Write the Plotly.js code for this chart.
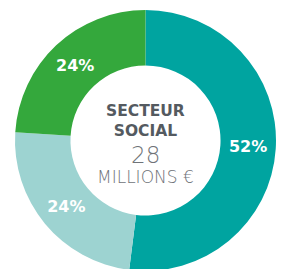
<!DOCTYPE html>
<html><head><meta charset="utf-8">
<script src="https://cdn.plot.ly/plotly-3.0.1.min.js"></script>
<style>html,body{margin:0;padding:0;overflow:hidden;background:#fff}</style>
</head><body><div id="chart" style="width:281px;height:272px"></div>
<script>
const labels = ["A", "B", "C"];
const values = [52, 24, 24];
const colors = ["#00a4a0", "#9dd3d1", "#34a83c"];
const centerTitle = "SECTEUR<br>SOCIAL";
const centerValue = "28";
const centerUnit = "MILLIONS €";

Plotly.newPlot("chart", [{
  type: "pie", labels: labels, values: values, sort: false, direction: "clockwise",
  hole: 0.575, marker: {colors: colors, line: {width: 0}},
  texttemplate: "%{value}%", textposition: "inside", insidetextorientation: "horizontal",
  textfont: {family: "'DejaVu Sans', sans-serif", size: 16, color: "#ffffff", weight: 700},
  domain: {x: [15/281, 276/281], y: [1/272, 262/272]},
  hoverinfo: "none", showlegend: false
}], {
  width: 281, height: 272, margin: {l: 0, r: 0, t: 0, b: 0},
  paper_bgcolor: "#fff", showlegend: false,
  annotations: [
    {text: centerTitle, x: 145.5/281, y: 1 - 121/272, xref: "paper", yref: "paper", showarrow: false,
     font: {family: "'DejaVu Sans', sans-serif", size: 15.5, color: "#545a60", weight: 700}},
    {text: centerValue, x: 145.5/281, y: 1 - 155/272, xref: "paper", yref: "paper", showarrow: false,
     font: {family: "'DejaVu Sans', sans-serif", size: 23, color: "#6f7378", weight: 200}},
    {text: centerUnit, x: 145.5/281, y: 1 - 176.5/272, xref: "paper", yref: "paper", showarrow: false,
     font: {family: "'DejaVu Sans', sans-serif", size: 17, color: "#6f7378", weight: 200}}
  ]
}, {staticPlot: true});
</script></body></html>
